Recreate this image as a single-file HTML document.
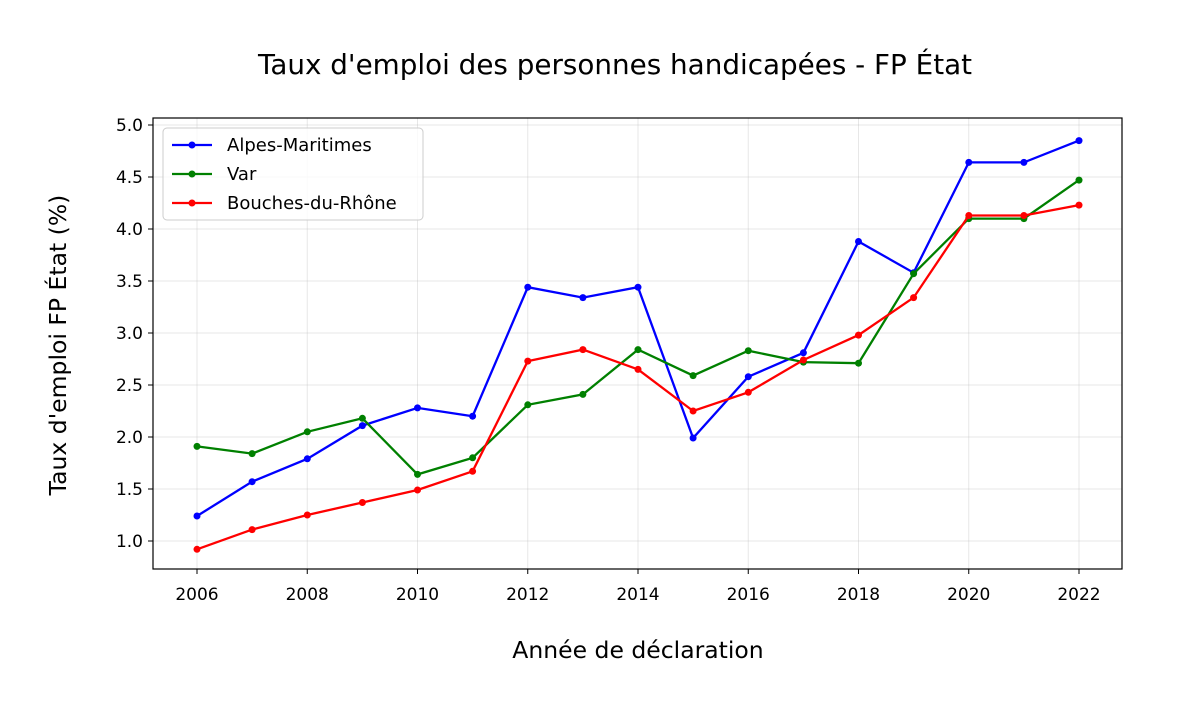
<!DOCTYPE html>
<html><head><meta charset="utf-8"><style>body{margin:0;background:#fff}svg{display:block;font-family:"DejaVu Sans","Liberation Sans",sans-serif}</style></head>
<body>
<svg id="s" width="1183" height="705" xmlns="http://www.w3.org/2000/svg"></svg>
<script>
const s=document.getElementById('s');
const X=y=>197+(y-2006)*55.125, Y=v=>541-(v-1)*104;
let h='<rect width="1183" height="705" fill="#fff"/>';
h+='<text x="615" y="74" font-size="27.8" text-anchor="middle">Taux d\'emploi des personnes handicapées - FP État</text>';
for(let y=2006;y<=2022;y+=2){const x=X(y);h+=`<line x1="${x}" y1="118" x2="${x}" y2="569" stroke="#b0b0b0" stroke-opacity="0.3"/><line x1="${x}" y1="569" x2="${x}" y2="574" stroke="#000"/><text x="${x}" y="600" font-size="17" text-anchor="middle">${y}</text>`;}
for(let v=1;v<=5.001;v+=0.5){const y=Y(v);h+=`<line x1="153" y1="${y}" x2="1122" y2="${y}" stroke="#b0b0b0" stroke-opacity="0.3"/><line x1="148" y1="${y}" x2="153" y2="${y}" stroke="#000"/><text x="143" y="${y+6}" font-size="17" text-anchor="end">${v.toFixed(1)}</text>`;}
const D=[["#0000ff",[1.24,1.57,1.79,2.11,2.28,2.20,3.44,3.34,3.44,1.99,2.58,2.81,3.88,3.58,4.64,4.64,4.85]],
["#008000",[1.91,1.84,2.05,2.18,1.64,1.80,2.31,2.41,2.84,2.59,2.83,2.72,2.71,3.57,4.10,4.10,4.47]],
["#ff0000",[0.92,1.11,1.25,1.37,1.49,1.67,2.73,2.84,2.65,2.25,2.43,2.74,2.98,3.34,4.13,4.13,4.23]]];
for(const [c,d] of D){const p=d.map((v,i)=>X(2006+i).toFixed(1)+','+Y(v).toFixed(1));h+=`<polyline points="${p.join(' ')}" fill="none" stroke="${c}" stroke-width="2.3"/>`;p.forEach(q=>{const [a,b]=q.split(',');h+=`<circle cx="${a}" cy="${b}" r="3.5" fill="${c}"/>`;});}
h+='<rect x="153" y="118" width="969" height="451" fill="none" stroke="#000" stroke-width="1.2"/>';
h+='<rect x="163" y="128" width="260" height="92" rx="4" fill="#fff" fill-opacity="0.8" stroke="#ccc"/>';
[["#0000ff","Alpes-Maritimes"],["#008000","Var"],["#ff0000","Bouches-du-Rhône"]].forEach(([c,t],i)=>{const y=145+i*29;h+=`<line x1="172" y1="${y}" x2="212" y2="${y}" stroke="${c}" stroke-width="2.3"/><circle cx="192" cy="${y}" r="3.5" fill="${c}"/><text x="227" y="${y+6}" font-size="18">${t}</text>`;});
h+='<text x="638" y="658" font-size="23.5" text-anchor="middle">Année de déclaration</text>';
h+='<text transform="translate(66,345) rotate(-90)" font-size="23.5" text-anchor="middle">Taux d\'emploi FP État (%)</text>';
s.innerHTML=h;
</script>
</body></html>
